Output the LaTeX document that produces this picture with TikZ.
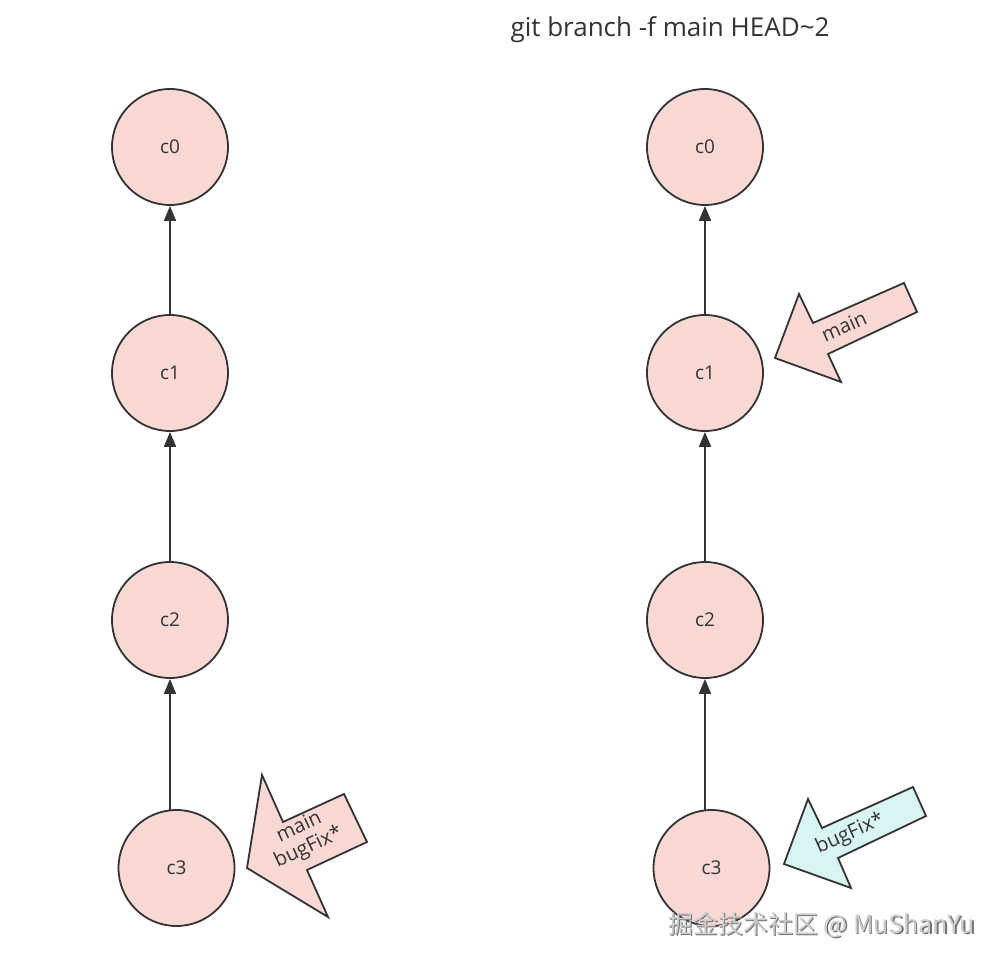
\documentclass[tikz,border=0pt]{standalone}
\usepackage{fontspec}
\setmainfont{Open Sans}
\newfontfamily\cjk{Noto Sans CJK SC}
\usetikzlibrary{arrows.meta}
\definecolor{pinkfill}{HTML}{FAD9D5}
\definecolor{cyanfill}{HTML}{D8F5F4}
\definecolor{strokec}{HTML}{333333}
\definecolor{textc}{HTML}{333333}
\tikzset{
  commit/.style={circle, draw=strokec, line width=1.8pt, fill=pinkfill, minimum size=116pt, inner sep=0pt, font=\fontsize{19}{22}\selectfont, text=textc},
  parent/.style={draw=strokec, line width=1.8pt, -{Triangle[length=15pt,width=12pt]}},
  blockarrow/.style={draw=strokec, line width=1.8pt, line join=miter},
  label/.style={font=\fontsize{20}{22}\selectfont, text=textc, align=center, inner sep=0pt}
}
\begin{document}
\begin{tikzpicture}[x=1pt,y=-1pt]
\useasboundingbox (0,0) rectangle (1005,965);
\fill[white] (0,0) rectangle (1005,965);
% title
\node[font=\fontsize{26}{30}\selectfont, text=textc, inner sep=0pt] (title) at (670,30) {git branch -f main HEAD\textasciitilde 2};
% left column
\node[commit] (lc0) at (170,147) {c0};
\node[commit] (lc1) at (170,373) {c1};
\node[commit] (lc2) at (170,620) {c2};
\node[commit] (lc3) at (176.5,868) {c3};
\draw[parent] (lc1) -- (lc0);
\draw[parent] (lc2) -- (lc1);
\draw[parent] (lc2.south |- 0,811) coordinate (lc3top) -- (lc2.south);
% right column
\node[commit] (rc0) at (705,147) {c0};
\node[commit] (rc1) at (705,373) {c1};
\node[commit] (rc2) at (705,620) {c2};
\node[commit] (rc3) at (711.5,868) {c3};
\draw[parent] (rc1) -- (rc0);
\draw[parent] (rc2) -- (rc1);
\draw[parent] (rc2.south |- 0,811) coordinate (rc3top) -- (rc2.south);
% left block arrow (main, bugFix*)
\draw[blockarrow, fill=pinkfill] (262,775) -- (283,822) -- (344,794) -- (367,842) -- (307,870) -- (328,917) -- (247,868) -- cycle;
\node[label, rotate=25] (lref) at (304,838) {main\\bugFix*};
% right block arrow (main)
\draw[blockarrow, fill=pinkfill] (799,294) -- (813,323) -- (904,283) -- (917,312) -- (828,354) -- (841,382) -- (775,358) -- cycle;
\node[label, rotate=24] (rmain) at (844,326) {main};
% right block arrow (bugFix*)
\draw[blockarrow, fill=cyanfill] (808,799) -- (822,828) -- (913,787) -- (926,816) -- (838,858) -- (851,888) -- (784,864) -- cycle;
\node[label, rotate=24] (rbug) at (850,834) {bugFix*};
% watermark
\node[font=\cjk\fontsize{25}{28}\selectfont, text=black!55, inner sep=0pt, anchor=west] at (669.5,926.5) {掘金技术社区 @ MuShanYu};
\node[font=\cjk\fontsize{25}{28}\selectfont, text=black!20, inner sep=0pt, anchor=west] (wm) at (668,925) {掘金技术社区 @ MuShanYu};
\end{tikzpicture}
\end{document}
